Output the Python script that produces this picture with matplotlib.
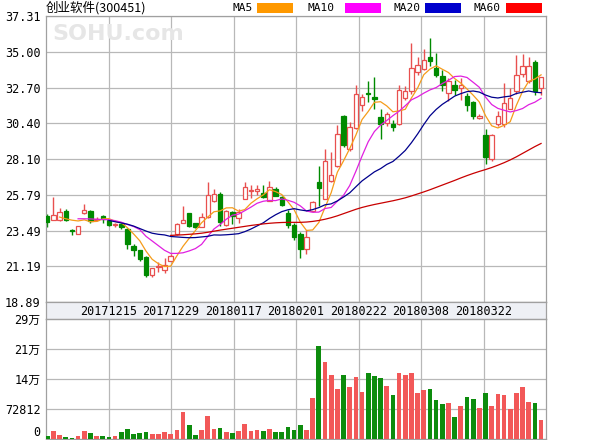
import matplotlib
matplotlib.use("Agg")
import matplotlib.pyplot as plt
import numpy as np
from matplotlib.patches import Rectangle

title = "创业软件(300451)"

opens = [24.46, 24.20, 24.14, 24.76, 23.55, 23.29, 24.61, 24.76, 24.15, 24.42,
         24.14, 23.82, 23.90, 23.61, 22.47, 22.22, 21.80, 20.62, 21.15, 20.98,
         21.52, 23.25, 23.97, 24.63, 23.95, 23.72, 24.36, 25.42, 25.85, 23.82,
         24.68, 24.31, 25.53, 26.05, 26.02, 25.90, 25.42, 26.17, 25.64, 24.61,
         23.85, 23.29, 22.28, 24.78, 26.64, 25.53, 26.70, 27.66, 30.90, 28.73,
         30.12, 31.55, 32.35, 32.10, 30.82, 30.44, 30.37, 30.33, 32.04, 32.46,
         33.72, 33.92, 34.66, 33.96, 33.46, 32.36, 32.89, 32.68, 32.14, 31.78,
         30.71, 29.64, 28.09, 30.33, 30.33, 31.35, 32.50, 33.57, 33.14, 34.34,
         32.68]
highs = [24.55, 25.64, 24.93, 24.85, 23.58, 23.80, 25.19, 24.80, 24.35, 24.50,
         24.20, 24.00, 23.95, 23.65, 22.65, 22.25, 21.85, 21.10, 21.45, 21.70,
         21.95, 23.95, 25.06, 24.65, 24.00, 24.63, 26.60, 26.17, 26.00, 24.80,
         24.75, 24.90, 26.60, 26.40, 26.40, 26.40, 26.66, 26.30, 25.70, 24.80,
         24.00, 23.40, 23.50, 25.40, 27.66, 28.73, 28.52, 30.26, 30.95, 30.48,
         32.89, 32.30, 33.10, 33.40, 31.30, 31.10, 30.60, 32.89, 32.80, 35.55,
         34.70, 35.20, 35.87, 34.92, 33.85, 33.34, 33.20, 33.30, 32.36, 31.85,
         31.00, 30.00, 29.70, 31.18, 33.00, 32.68, 34.81, 34.85, 34.70, 34.49,
         33.40]
lows = [23.74, 24.14, 24.10, 24.10, 23.22, 23.27, 24.55, 24.00, 24.10, 24.00,
        23.80, 23.70, 23.60, 22.30, 21.85, 21.55, 20.50, 20.50, 20.80, 20.75,
        21.50, 23.20, 23.95, 23.70, 23.65, 23.70, 24.30, 25.30, 23.80, 23.80,
        23.90, 24.00, 25.50, 25.60, 25.80, 25.60, 25.40, 25.70, 25.10, 23.65,
        22.90, 21.70, 22.00, 24.70, 25.10, 25.50, 26.60, 27.60, 28.90, 28.60,
        30.00, 31.20, 31.80, 31.30, 29.40, 30.20, 29.90, 30.30, 31.90, 32.30,
        33.50, 33.80, 34.10, 33.40, 32.46, 31.82, 32.25, 31.93, 31.18, 30.65,
        30.65, 27.81, 27.98, 30.22, 30.15, 31.30, 32.30, 33.40, 33.00, 32.25,
        32.25]
closes = [24.04, 24.50, 24.68, 24.14, 23.46, 23.78, 24.84, 24.08, 24.25, 24.25,
          23.88, 23.92, 23.72, 22.60, 22.22, 21.69, 20.62, 21.05, 21.22, 21.26,
          21.86, 23.93, 24.14, 23.78, 23.75, 24.36, 25.78, 25.85, 24.04, 24.74,
          24.40, 24.68, 26.32, 26.12, 26.17, 25.67, 26.32, 25.74, 25.16, 23.82,
          23.10, 22.33, 23.08, 25.32, 26.21, 27.98, 27.06, 29.69, 28.98, 30.15,
          32.31, 32.08, 32.28, 31.95, 30.33, 30.97, 30.18, 32.57, 32.46, 33.96,
          34.17, 34.49, 34.38, 33.48, 32.89, 33.10, 32.57, 32.89, 31.61, 30.86,
          30.90, 28.20, 29.64, 30.90, 31.72, 32.04, 33.48, 34.12, 34.12, 32.50,
          33.36]
volumes = [8000, 20000, 10500, 5700, 3200, 8000, 20000, 15000, 8000, 8000,
           5700, 8000, 18000, 25000, 13000, 15000, 18000, 13000, 13000, 18000,
           13000, 23000, 66000, 35000, 10500, 23000, 57000, 25000, 27500, 18000,
           15000, 20000, 37000, 20000, 23000, 20000, 25000, 18000, 18000, 30000,
           23000, 35000, 23000, 100000, 226000, 188000, 156000, 122000, 156000, 127000,
           151000, 115000, 159000, 154000, 149000, 129000, 108000, 161000, 156000, 159000,
           112000, 120000, 122000, 95000, 86000, 88000, 54000, 81000, 103000, 98000,
           76000, 112000, 81000, 110000, 108000, 74000, 112000, 125000, 91000, 88000,
           47000]

ma5 = [None, None, 24.36, 24.25, 24.16, 24.11, 24.18, 24.06, 24.08, 24.24,
       24.26, 24.08, 24.00, 23.67, 23.27, 22.83, 22.17, 21.64, 21.36, 21.17,
       21.20, 21.86, 22.48, 22.99, 23.49, 23.99, 24.36, 24.70, 24.76, 24.95,
       24.96, 24.74, 24.84, 25.25, 25.54, 25.79, 26.12, 26.00, 25.81, 25.34,
       24.83, 24.03, 23.50, 23.53, 24.01, 24.98, 25.93, 27.25, 27.98, 28.77,
       29.64, 30.64, 31.16, 31.75, 31.79, 31.52, 31.14, 31.20, 31.30, 32.03,
       32.67, 33.53, 33.89, 34.10, 33.88, 33.67, 33.28, 32.99, 32.61, 32.21,
       31.77, 30.89, 30.24, 30.10, 30.27, 30.50, 31.56, 32.45, 33.10, 33.25,
       33.52]
ma10 = [None, None, None, None, None, 24.25, 24.25, 24.24, 24.22, 24.20,
        24.19, 24.13, 24.03, 23.88, 23.75, 23.55, 23.12, 22.82, 22.52, 22.22,
        22.02, 22.02, 22.06, 22.18, 22.33, 22.60, 23.11, 23.59, 23.88, 24.22,
        24.48, 24.55, 24.77, 25.00, 25.25, 25.38, 25.43, 25.42, 25.53, 25.44,
        25.31, 25.08, 24.75, 24.67, 24.68, 24.91, 24.98, 25.38, 25.76, 26.39,
        27.31, 28.29, 29.21, 29.87, 30.28, 30.58, 30.89, 31.18, 31.53, 31.91,
        32.10, 32.34, 32.55, 32.70, 32.96, 33.17, 33.41, 33.44, 33.35, 33.04,
        32.72, 32.09, 31.61, 31.36, 31.24, 31.13, 31.22, 31.35, 31.60, 31.76,
        32.01]
ma20 = [None, None, None, None, None, None, None, None, None, None,
        24.14, 24.06, 23.98, 23.90, 23.78, 23.62, 23.46, 23.32, 23.25, 23.21,
        23.11, 23.08, 23.05, 23.03, 23.04, 23.08, 23.12, 23.21, 23.20, 23.22,
        23.25, 23.29, 23.42, 23.59, 23.79, 23.99, 24.27, 24.51, 24.71, 24.83,
        24.90, 24.82, 24.76, 24.84, 24.97, 25.15, 25.21, 25.40, 25.65, 25.92,
        26.31, 26.69, 26.98, 27.27, 27.48, 27.75, 27.94, 28.28, 28.65, 29.15,
        29.71, 30.32, 30.88, 31.29, 31.62, 31.88, 32.15, 32.31, 32.44, 32.48,
        32.41, 32.22, 32.08, 32.03, 32.10, 32.15, 32.32, 32.40, 32.48, 32.40,
        32.37]
ma60 = [None, None, None, None, None, None, None, None, None, None,
        None, None, None, None, None, None, None, None, None, None,
        23.18, 23.20, 23.22, 23.25, 23.28, 23.32, 23.38, 23.45, 23.52, 23.58,
        23.64, 23.70, 23.76, 23.82, 23.87, 23.92, 23.96, 23.99, 24.01, 24.02,
        24.02, 24.02, 24.04, 24.08, 24.14, 24.22, 24.32, 24.44, 24.58, 24.72,
        24.86, 24.98, 25.08, 25.17, 25.25, 25.33, 25.41, 25.50, 25.60, 25.72,
        25.85, 25.98, 26.12, 26.27, 26.42, 26.57, 26.72, 26.88, 27.03, 27.17,
        27.30, 27.42, 27.55, 27.70, 27.86, 28.04, 28.24, 28.46, 28.68, 28.90,
        29.10]

date_labels = ["20171215", "20171229", "20180117", "20180201",
               "20180222", "20180308", "20180322"]
price_labels = ["18.89", "21.19", "23.49", "25.79", "28.10",
                "30.40", "32.70", "35.00", "37.31"]
vol_ticks = [0, 72812, 145624, 218436, 291248]
vol_labels = ["0", "72812", "14万", "21万", "29万"]

UP = "#e8504f"
DOWN = "#008a00"
VOL_UP = "#f25858"
VOL_DOWN = "#0d8c0d"
GRID = "#b8b8b8"
EDGE = "#a0a0a0"
MONO = ["DejaVu Sans Mono", "Noto Sans CJK SC"]

W, H = 600, 440
fig = plt.figure(figsize=(W / 100, H / 100), dpi=100)
ax = fig.add_axes([46 / W, 1 - 302 / H, 500 / W, 286 / H])
strip = fig.add_axes([46 / W, 1 - 319 / H, 500 / W, 17 / H])
axv = fig.add_axes([46 / W, 1 - 439 / H, 500 / W, 120 / H])

n = len(closes)
x = np.arange(n)
o = np.array(opens)
c = np.array(closes)
up = c >= o
xl = (-0.2, n - 0.2)
grid_x = [xl[0] + k * (xl[1] - xl[0]) / 8 for k in range(1, 8)]

# candles
ax.vlines(x, lows, highs, colors=[UP if u else DOWN for u in up], lw=1, zorder=2)
bottoms = np.minimum(o, c)
heights = np.maximum(np.abs(c - o), 0.03)
ax.bar(x, heights, bottom=bottoms, width=0.72,
       facecolor=["white" if u else DOWN for u in up],
       edgecolor=[UP if u else DOWN for u in up], linewidth=0.9, zorder=3)

ax.plot(x, np.array(ma5, dtype=float), color="#f59c1a", lw=0.9, zorder=4)
ax.plot(x, np.array(ma10, dtype=float), color="#e020e0", lw=0.9, zorder=4)
ax.plot(x, np.array(ma20, dtype=float), color="#00008c", lw=0.9, zorder=4)
ax.plot(x, np.array(ma60, dtype=float), color="#c80000", lw=0.9, zorder=4)

price_vals = [float(p) for p in price_labels]
ax.set_xlim(*xl)
ax.set_ylim(price_vals[0], price_vals[-1])
ax.set_xticks(grid_x)
ax.set_yticks(price_vals)
ax.set_yticklabels(price_labels, family=MONO, fontsize=8.5)
ax.tick_params(axis="x", length=0, labelbottom=False)
ax.tick_params(axis="y", length=0, pad=4)
ax.grid(True, color=GRID, lw=0.9)
ax.set_axisbelow(True)

# date strip
strip.set_facecolor("#eef0f5")
strip.set_xlim(0, 1)
strip.set_ylim(0, 1)
strip.set_xticks([])
strip.set_yticks([])
for k, lab in enumerate(date_labels, start=1):
    strip.text(k / 8, 0.45, lab, ha="center", va="center", family=MONO, fontsize=8.5)

# volume
axv.bar(x, volumes, width=0.76, color=[VOL_UP if u else VOL_DOWN for u in up], zorder=3)
axv.set_xlim(*xl)
axv.set_ylim(0, vol_ticks[-1])
axv.set_xticks(grid_x)
axv.set_yticks(vol_ticks)
axv.set_yticklabels(vol_labels, family=MONO, fontsize=8.5)
axv.get_yticklabels()[0].set_va("bottom")
axv.tick_params(axis="x", length=0, labelbottom=False)
axv.tick_params(axis="y", length=0, pad=4)
axv.grid(True, color=GRID, lw=0.9)
axv.set_axisbelow(True)

for a in (ax, strip, axv):
    for s in a.spines.values():
        s.set_color(EDGE)
        s.set_linewidth(0.9)

# header
fig.text(52 / W, 1 - 34 / H, "SOHU.com", fontsize=16, color="#e6e6e6",
         weight="bold", va="center")
fig.text(46 / W, 1 - 8 / H, title, family=["Noto Sans CJK SC", "DejaVu Sans"],
         fontsize=9, va="center")
legend = [("MA5", "#ff9900", 233, 257), ("MA10", "#ff00ff", 308, 345),
          ("MA20", "#0000cc", 393, 425), ("MA60", "#ff0000", 474, 506)]
for lab, col, tx, bx in legend:
    fig.text(tx / W, 1 - 8 / H, lab, family=MONO, fontsize=8, va="center")
    fig.add_artist(Rectangle((bx / W, 1 - 13 / H), 36 / W, 10 / H,
                             transform=fig.transFigure, facecolor=col, edgecolor="none"))

fig.savefig("out.png", dpi=100)
